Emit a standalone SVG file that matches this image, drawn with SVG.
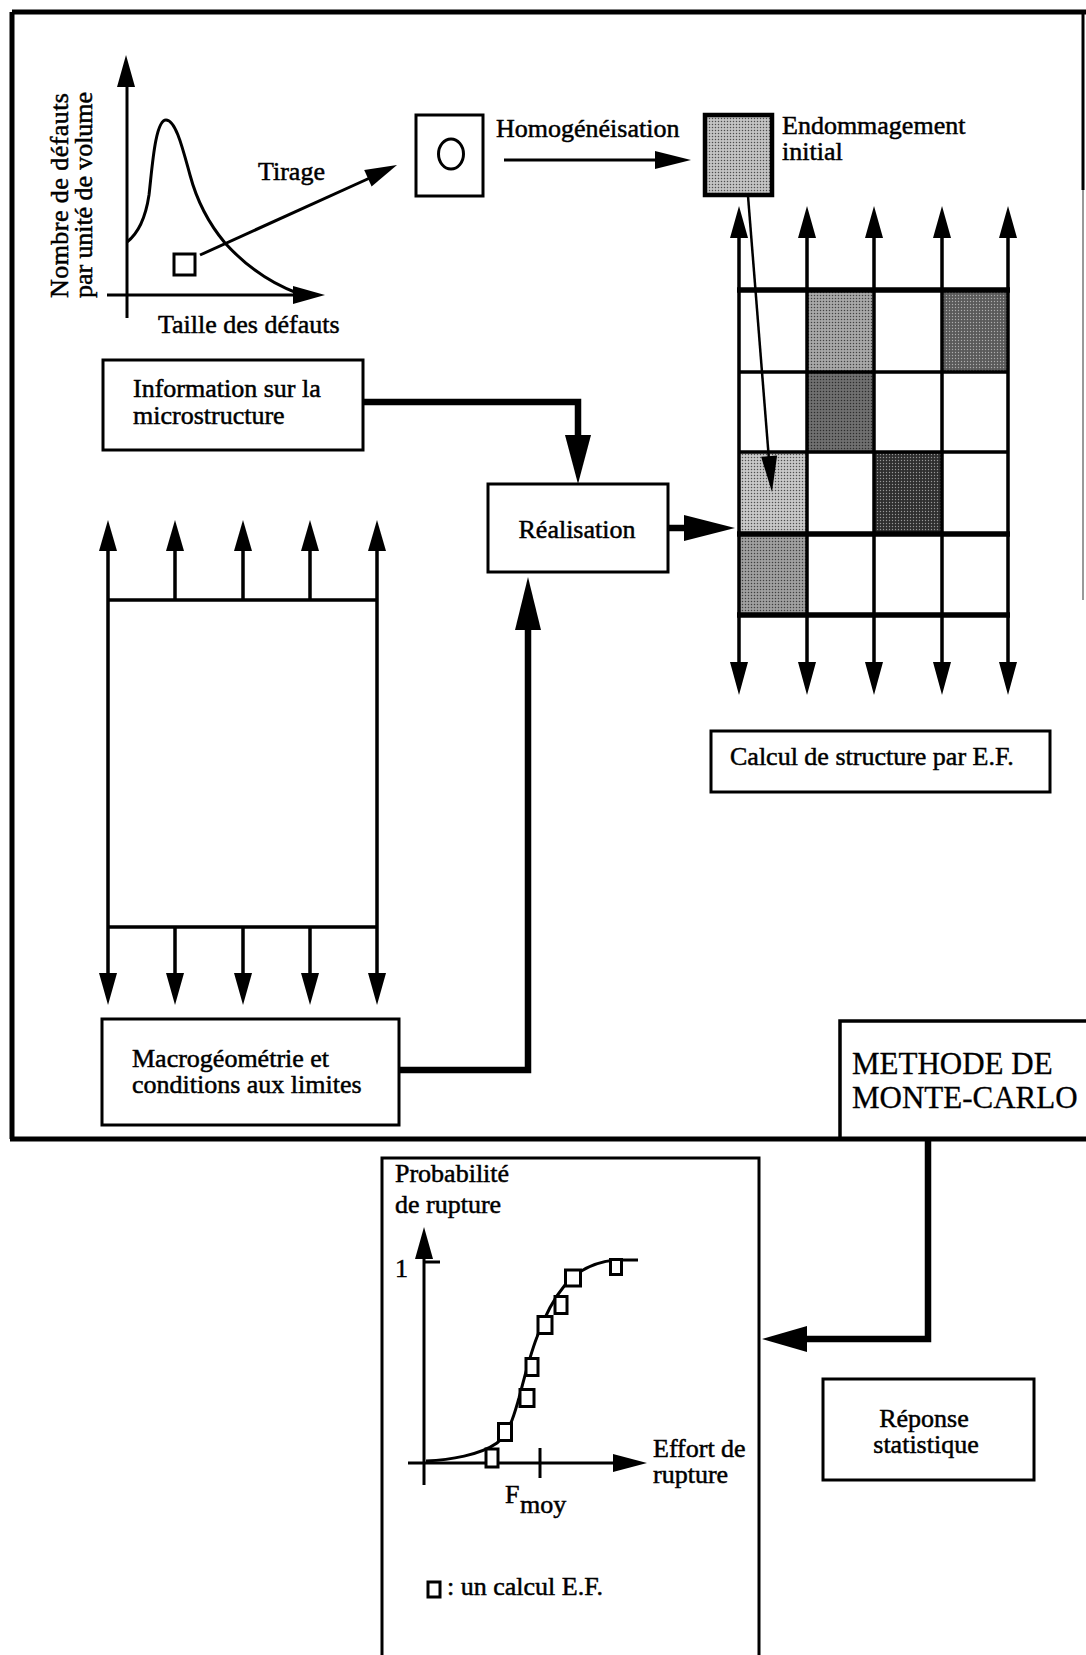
<svg xmlns="http://www.w3.org/2000/svg" width="1086" height="1655" viewBox="0 0 1086 1655">
<style>
  text { font-family: "Liberation Serif", "Times New Roman", serif; font-size: 26px; fill: #000; stroke: #000; stroke-width: 0.5; }
  .big { font-size: 31px; stroke-width: 0.3; }
  .box { fill: #fff; stroke: #000; stroke-width: 3; }
  .ln { fill: none; stroke: #000; stroke-width: 3; }
  .thin { fill: none; stroke: #000; stroke-width: 2.5; }
  .thick { fill: none; stroke: #000; stroke-width: 6.5; stroke-linejoin: miter; }
  .frame { fill: none; stroke: #000; stroke-width: 5; }
  .grid { fill: none; stroke: #000; stroke-width: 3.5; }
  .gridb { fill: none; stroke: #000; stroke-width: 5.5; }
  .head { fill: #000; stroke: none; }
  .sq { fill: #fff; stroke: #000; stroke-width: 3; }
  .dots { fill: url(#dots); }
  .dotsw { fill: url(#dotsw); }
</style>
<defs>
  <pattern id="dots" width="3" height="3" patternUnits="userSpaceOnUse">
    <circle cx="1.5" cy="1.5" r="0.75" fill="#000" fill-opacity="0.6"/>
  </pattern>
  <pattern id="dotsw" width="3" height="3" patternUnits="userSpaceOnUse">
    <circle cx="1.5" cy="1.5" r="0.7" fill="#fff" fill-opacity="0.5"/>
  </pattern>
</defs>

<rect x="0" y="0" width="1086" height="1655" fill="#fff"/>

<!-- outer frame -->
<g id="frame">
  <path class="frame" d="M12,12 L1086,12 M12,12 L12,1139 M10,1139 L1086,1139"/>
  <path d="M1083,12 L1083,190" stroke="#000" stroke-width="3" fill="none"/>
  <path d="M1083,190 L1083,600" stroke="#999" stroke-width="2" fill="none"/>
</g>

<!-- size distribution chart -->
<g id="distribution">
  <path class="ln" d="M127,80 L127,318"/>
  <polygon class="head" points="126,55 117,87 135,87"/>
  <path class="ln" d="M107,295 L300,295"/>
  <polygon class="head" points="325,295 293,286 293,304"/>
  <path class="ln" d="M127,242 C140,232 146,215 149,195 C152,170 155,120 166,120 C176,120 183,150 190,175 C198,205 210,225 225,243 C245,265 270,283 297,293"/>
  <rect class="sq" x="174" y="254" width="21" height="21" stroke-width="2.5"/>
  <text transform="translate(68,298) rotate(-90)" textLength="205" lengthAdjust="spacing">Nombre de défauts</text>
  <text transform="translate(92,298) rotate(-90)" textLength="206" lengthAdjust="spacing">par unité de volume</text>
  <text x="158" y="333">Taille des défauts</text>
  <text x="258" y="180">Tirage</text>
</g>

<!-- inclusion cell -->
<g id="inclusion">
  <rect class="box" x="416" y="115" width="67" height="81"/>
  <ellipse cx="451" cy="154" rx="12.5" ry="15" fill="none" stroke="#000" stroke-width="3"/>
  <text x="496" y="137">Homogénéisation</text>
</g>

<!-- initial damage -->
<g id="endommagement">
  <rect x="705" y="115" width="67" height="80" fill="#c4c4c4" stroke="#000" stroke-width="4.5"/>
  <rect class="dots" x="707" y="117" width="63" height="76"/>
  <text x="782" y="134">Endommagement</text>
  <text x="782" y="160">initial</text>
</g>

<!-- information box -->
<g id="information">
  <rect class="box" x="103" y="360" width="260" height="90"/>
  <text x="133" y="397">Information sur la</text>
  <text x="133" y="424">microstructure</text>
</g>

<!-- realisation -->
<g id="realisation">
  <rect class="box" x="488" y="484" width="180" height="88"/>
  <text x="577" y="538" text-anchor="middle">Réalisation</text>
</g>

<!-- FE mesh -->
<g id="mesh">
  <rect x="807" y="290" width="67" height="82" fill="#a8a8a8"/>
  <rect class="dots" x="807" y="290" width="67" height="82"/>
  <rect x="942" y="290" width="66" height="82" fill="#5a5a5a"/>
  <rect class="dotsw" x="942" y="290" width="66" height="82"/>
  <rect x="807" y="372" width="67" height="80" fill="#707070"/>
  <rect class="dots" x="807" y="372" width="67" height="80"/>
  <rect x="739" y="452" width="68" height="82" fill="#c8c8c8"/>
  <rect class="dots" x="739" y="452" width="68" height="82"/>
  <rect x="874" y="452" width="68" height="82" fill="#2e2e2e"/>
  <rect class="dotsw" x="874" y="452" width="68" height="82"/>
  <rect x="739" y="534" width="68" height="81" fill="#a0a0a0"/>
  <rect class="dots" x="739" y="534" width="68" height="81"/>
  <path class="grid" d="M739,230 L739,670 M807,230 L807,670 M874,230 L874,670 M942,230 L942,670 M1008,230 L1008,670"/>
  <path class="grid" d="M739,372 L1008,372 M739,452 L1008,452"/>
  <path class="gridb" d="M737,290 L1010,290 M737,534 L1010,534 M737,615 L1010,615"/>
  <polygon class="head" points="739,206 730,238 748,238"/>
  <polygon class="head" points="807,206 798,238 816,238"/>
  <polygon class="head" points="874,206 865,238 883,238"/>
  <polygon class="head" points="942,206 933,238 951,238"/>
  <polygon class="head" points="1008,206 999,238 1017,238"/>
  <polygon class="head" points="739,695 730,662 748,662"/>
  <polygon class="head" points="807,695 798,662 816,662"/>
  <polygon class="head" points="874,695 865,662 883,662"/>
  <polygon class="head" points="942,695 933,662 951,662"/>
  <polygon class="head" points="1008,695 999,662 1017,662"/>
</g>

<g id="calcul">
  <rect class="box" x="711" y="731" width="339" height="61"/>
  <text x="730" y="765">Calcul de structure par E.F.</text>
</g>

<!-- macro specimen -->
<g id="specimen">
  <path class="grid" d="M108,545 L108,985 M377,545 L377,985 M108,600 L377,600 M108,927 L377,927"/>
  <path class="grid" d="M175,545 L175,600 M243,545 L243,600 M310,545 L310,600 M175,927 L175,985 M243,927 L243,985 M310,927 L310,985"/>
  <polygon class="head" points="108,520 99,551 117,551"/>
  <polygon class="head" points="175,520 166,551 184,551"/>
  <polygon class="head" points="243,520 234,551 252,551"/>
  <polygon class="head" points="310,520 301,551 319,551"/>
  <polygon class="head" points="377,520 368,551 386,551"/>
  <polygon class="head" points="108,1005 99,973 117,973"/>
  <polygon class="head" points="175,1005 166,973 184,973"/>
  <polygon class="head" points="243,1005 234,973 252,973"/>
  <polygon class="head" points="310,1005 301,973 319,973"/>
  <polygon class="head" points="377,1005 368,973 386,973"/>
</g>

<g id="macrogeometrie">
  <rect class="box" x="102" y="1019" width="297" height="106"/>
  <text x="132" y="1067">Macrogéométrie et</text>
  <text x="132" y="1093">conditions aux limites</text>
</g>

<g id="montecarlo">
  <path d="M840,1139 L840,1021 L1086,1021" fill="none" stroke="#000" stroke-width="3.5"/>
  <text class="big" x="852" y="1074">METHODE DE</text>
  <text class="big" x="852" y="1108">MONTE-CARLO</text>
</g>

<!-- probability chart -->
<g id="probabilite">
  <path d="M382,1665 L382,1158 L759,1158 L759,1665" fill="none" stroke="#000" stroke-width="3"/>
  <text x="395" y="1182">Probabilité</text>
  <text x="395" y="1213">de rupture</text>
  <path class="ln" d="M424,1250 L424,1485"/>
  <polygon class="head" points="424,1227 415,1259 433,1259"/>
  <path class="ln" d="M424,1262 L440,1262"/>
  <text x="395" y="1277">1</text>
  <path class="ln" d="M408,1463 L620,1463"/>
  <polygon class="head" points="647,1463 613,1454 613,1472"/>
  <path class="ln" d="M540,1448 L540,1478"/>
  <path class="ln" d="M426,1461 C450,1460 480,1455 497,1443 C510,1432 514,1415 519,1398 C525,1375 530,1355 537,1337 C545,1315 555,1297 565,1285 C578,1270 595,1262 615,1260 L638,1260"/>
  <rect class="sq" x="486" y="1449" width="12" height="18"/>
  <rect class="sq" x="498.5" y="1423.5" width="13" height="17"/>
  <rect class="sq" x="520" y="1389.5" width="14" height="17"/>
  <rect class="sq" x="526" y="1358.5" width="12" height="17"/>
  <rect class="sq" x="538" y="1316.5" width="14" height="17"/>
  <rect class="sq" x="555" y="1296.5" width="12" height="17"/>
  <rect class="sq" x="565.5" y="1270" width="15" height="16"/>
  <rect class="sq" x="610.5" y="1259.5" width="11" height="15"/>
  <text x="653" y="1457">Effort de</text>
  <text x="653" y="1483">rupture</text>
  <text x="505" y="1503">F</text>
  <text x="520" y="1513">moy</text>
  <rect class="sq" x="428" y="1582" width="12" height="15"/>
  <text x="447" y="1595">: un calcul E.F.</text>
</g>

<g id="reponse">
  <rect class="box" x="823" y="1379" width="211" height="101"/>
  <text x="924" y="1427" text-anchor="middle">Réponse</text>
  <text x="926" y="1453" text-anchor="middle">statistique</text>
</g>

<!-- connectors -->
<g id="connectors">
  <path class="ln" d="M200,255 L372,177"/>
  <polygon class="head" points="397,165 371.6,186.5 364.2,170.1"/>
  <path class="ln" d="M504,160 L660,160"/>
  <polygon class="head" points="691,160 655,151 655,169"/>
  <path class="thin" d="M748,196 L769,460"/>
  <polygon class="head" points="772,492 777.1,455.5 761.1,456.8"/>
  <path class="thick" d="M363,402 L578,402 L578,440"/>
  <polygon class="head" points="578,484 565,435 591,435"/>
  <path class="thick" d="M668,528 L690,528"/>
  <polygon class="head" points="735,528 684,515 684,541"/>
  <path class="thick" d="M399,1070 L528,1070 L528,625"/>
  <polygon class="head" points="528,577 515,630 541,630"/>
  <path class="thick" d="M928,1139 L928,1339 L800,1339"/>
  <polygon class="head" points="762,1339 807,1326 807,1352"/>
</g>
</svg>
